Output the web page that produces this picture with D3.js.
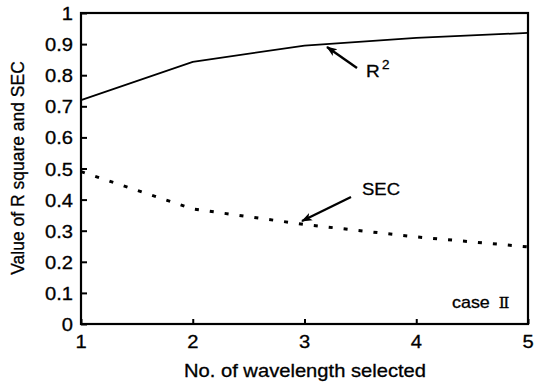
<!DOCTYPE html>
<html><head><meta charset="utf-8">
<script src="https://cdn.jsdelivr.net/npm/d3@7"></script>
<style>body{margin:0;background:#fff}svg{display:block}text{font-family:"Liberation Sans",Arial,sans-serif;fill:#000;stroke:#000;stroke-width:0.3}</style>
</head><body>
<svg id="c" width="536" height="389"></svg>
<script>
const xValues = [1, 2, 3, 4, 5];
const r2Values = [0.72, 0.843, 0.895, 0.92, 0.936];
const secValues = [0.49, 0.37, 0.32, 0.28, 0.248];
const xTicks = [1, 2, 3, 4, 5];
const yTicks = [0, 0.1, 0.2, 0.3, 0.4, 0.5, 0.6, 0.7, 0.8, 0.9, 1];

const svg = d3.select("#c");
const L = 81, R = 528, T = 13, B = 324;
const SX = 1.12;
const x = d3.scaleLinear().domain([1, 5]).range([L, R]);
const y = d3.scaleLinear().domain([0, 1]).range([B, T]);

function label(px, py, size, anchor, txt) {
  return svg.append("text").attr("transform", `translate(${px},${py}) scale(${SX},1)`)
    .attr("text-anchor", anchor).attr("font-size", size).text(txt);
}

// frame
svg.append("rect").attr("x", L).attr("y", T).attr("width", R - L).attr("height", B - T)
  .attr("fill", "none").attr("stroke", "#000").attr("stroke-width", 2.2);

// y axis (inward ticks)
const ya = svg.append("g").attr("transform", `translate(${L},0)`)
  .call(d3.axisRight(y).tickValues(yTicks).tickSize(6).tickFormat(""));
ya.select(".domain").remove();
ya.selectAll("line").attr("stroke-width", 2);
yTicks.forEach(v => label(L - 8, y(v) + 7, 18, "end", d3.format("~g")(v)));

// x axis (inward ticks)
const xa = svg.append("g").attr("transform", `translate(0,${B})`)
  .call(d3.axisTop(x).tickValues(xTicks).tickSize(5).tickFormat(""));
xa.select(".domain").remove();
xa.selectAll("line").attr("stroke-width", 2);
xTicks.forEach(v => label(x(v), B + 24, 18, "middle", v));

// titles
label(305, 377, 18, "middle", "No. of wavelength selected");
svg.append("text").attr("transform", `translate(24,168) rotate(-90) scale(1,1.05)`)
  .attr("text-anchor", "middle").attr("font-size", 17.5).text("Value of R square and SEC");

// lines
const line = d3.line().x((d, i) => x(xValues[i])).y(d => y(d));
svg.append("path").datum(r2Values).attr("d", line).attr("fill", "none")
  .attr("stroke", "#000").attr("stroke-width", 1.8);
svg.append("path").datum(secValues).attr("d", line).attr("fill", "none")
  .attr("stroke", "#000").attr("stroke-width", 3).attr("stroke-dasharray", "4,11");

// arrows
svg.append("defs").append("marker").attr("id", "ah").attr("viewBox", "0 0 12 10")
  .attr("refX", 11).attr("refY", 5).attr("markerWidth", 4.5).attr("markerHeight", 4)
  .attr("orient", "auto").append("path").attr("d", "M0,0.5 L12,5 L0,9.5 L3,5 Z").attr("fill", "#000");
svg.append("line").attr("x1", 357).attr("y1", 68).attr("x2", 327).attr("y2", 47)
  .attr("stroke", "#000").attr("stroke-width", 2.4).attr("marker-end", "url(#ah)");
svg.append("line").attr("x1", 351).attr("y1", 197).attr("x2", 302).attr("y2", 221)
  .attr("stroke", "#000").attr("stroke-width", 2.4).attr("marker-end", "url(#ah)");

const r2t = label(366, 77, 17, "start", "R");
r2t.append("tspan").attr("dy", -8).attr("dx", 2).attr("font-size", 12).text("2");
label(362, 195, 16.5, "start", "SEC");
const ct = label(452, 308, 16, "start", "case");
ct.append("tspan").attr("dx", 8).attr("font-family", "'DejaVu Serif','Noto Sans CJK SC',serif")
  .attr("font-size", 14).text("Ⅱ");
</script>
</body></html>
